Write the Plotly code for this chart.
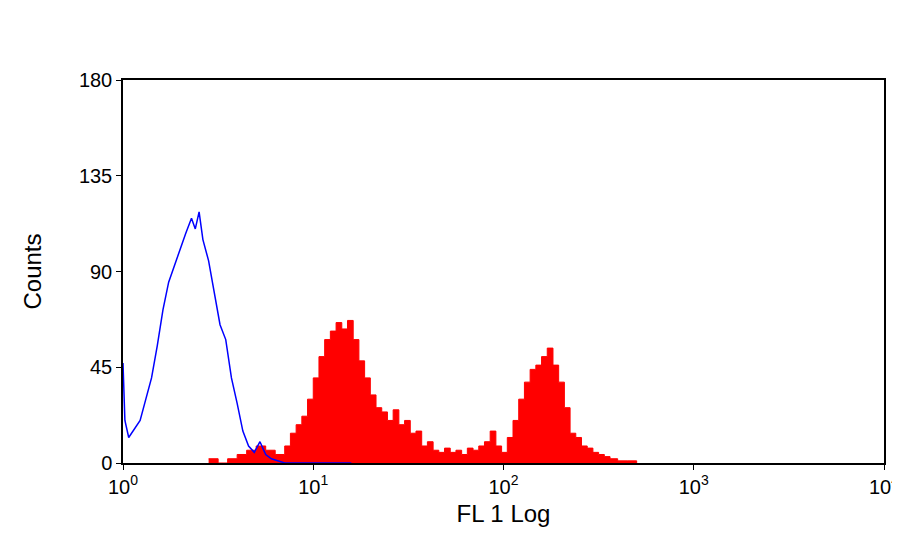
import plotly.graph_objs as go

# log10 positions and counts
blue_log = [0.00, 0.01, 0.03, 0.06, 0.09, 0.12, 0.15, 0.18, 0.21, 0.24, 0.27, 0.30, 0.33, 0.36, 0.38,
            0.40, 0.42, 0.45, 0.48, 0.51, 0.54, 0.57, 0.60, 0.63, 0.66, 0.69, 0.72, 0.75, 0.78, 0.81,
            0.85, 0.90, 1.00, 1.20]
blue_counts = [47, 20, 12, 16, 20, 30, 40, 55, 72, 85, 93, 100, 108, 115, 110,
               118, 105, 95, 80, 65, 58, 40, 28, 15, 8, 5, 10, 4, 2, 1,
               0, 0, 0, 0]

red_log = [0.45, 0.50, 0.55, 0.60, 0.65, 0.70, 0.75, 0.80, 0.85, 0.88, 0.91, 0.94, 0.97, 1.00, 1.03,
           1.06, 1.09, 1.12, 1.15, 1.18, 1.21, 1.24, 1.27, 1.30, 1.33, 1.36, 1.39, 1.42, 1.45, 1.48,
           1.51, 1.54, 1.57, 1.60, 1.63, 1.66, 1.69, 1.72, 1.75, 1.78, 1.81, 1.84, 1.87, 1.90, 1.93,
           1.96, 1.99, 2.02, 2.05, 2.08, 2.11, 2.14, 2.17, 2.20, 2.23, 2.26, 2.29, 2.32, 2.35, 2.38,
           2.41, 2.44, 2.47, 2.50, 2.53, 2.56, 2.60, 2.65, 2.70]
red_counts = [2, 0, 2, 4, 6, 8, 6, 4, 8, 14, 18, 22, 30, 40, 50,
              58, 62, 66, 63, 67, 58, 48, 40, 32, 26, 24, 20, 25, 18, 20,
              14, 15, 8, 10, 6, 5, 7, 5, 6, 4, 7, 6, 8, 10, 15,
              8, 5, 12, 20, 30, 38, 44, 46, 50, 54, 46, 38, 26, 14, 12,
              8, 7, 5, 4, 3, 2, 1, 1, 0]

tick_vals = [1, 10, 100, 1000, 10000]
tick_text = ["10<sup>0</sup>", "10<sup>1</sup>", "10<sup>2</sup>", "10<sup>3</sup>", "10<sup>4</sup>"]

red = go.Scatter(x=[10 ** v for v in red_log], y=red_counts, mode="lines", line=dict(color="red", width=1, shape="hv"),
                 fill="tozeroy", fillcolor="red")
blue = go.Scatter(x=[10 ** v for v in blue_log], y=blue_counts, mode="lines", line=dict(color="blue", width=1.5))

fig = go.Figure(data=[red, blue])
fig.update_layout(
    width=900, height=552, showlegend=False,
    paper_bgcolor="white", plot_bgcolor="white",
    margin=dict(l=115, r=24, t=72, b=97),
    font=dict(family="Liberation Sans, Arial", size=20, color="black"),
    xaxis=dict(type="log", range=[0, 4], tickvals=tick_vals, ticktext=tick_text, automargin=False,
               showgrid=False, zeroline=False, showline=True, linecolor="black", linewidth=1.5, mirror=True,
               ticks="outside", ticklen=5, tickcolor="black",
               title=dict(text="FL 1 Log", standoff=8)),
    yaxis=dict(range=[0, 180], tickvals=[0, 45, 90, 135, 180], automargin=False,
               showgrid=False, zeroline=False, showline=True, linecolor="black", linewidth=1.5, mirror=True,
               ticks="outside", ticklen=5, tickcolor="black",
               title=dict(text="Counts", standoff=30)),
)
fig.write_html("out.html")
